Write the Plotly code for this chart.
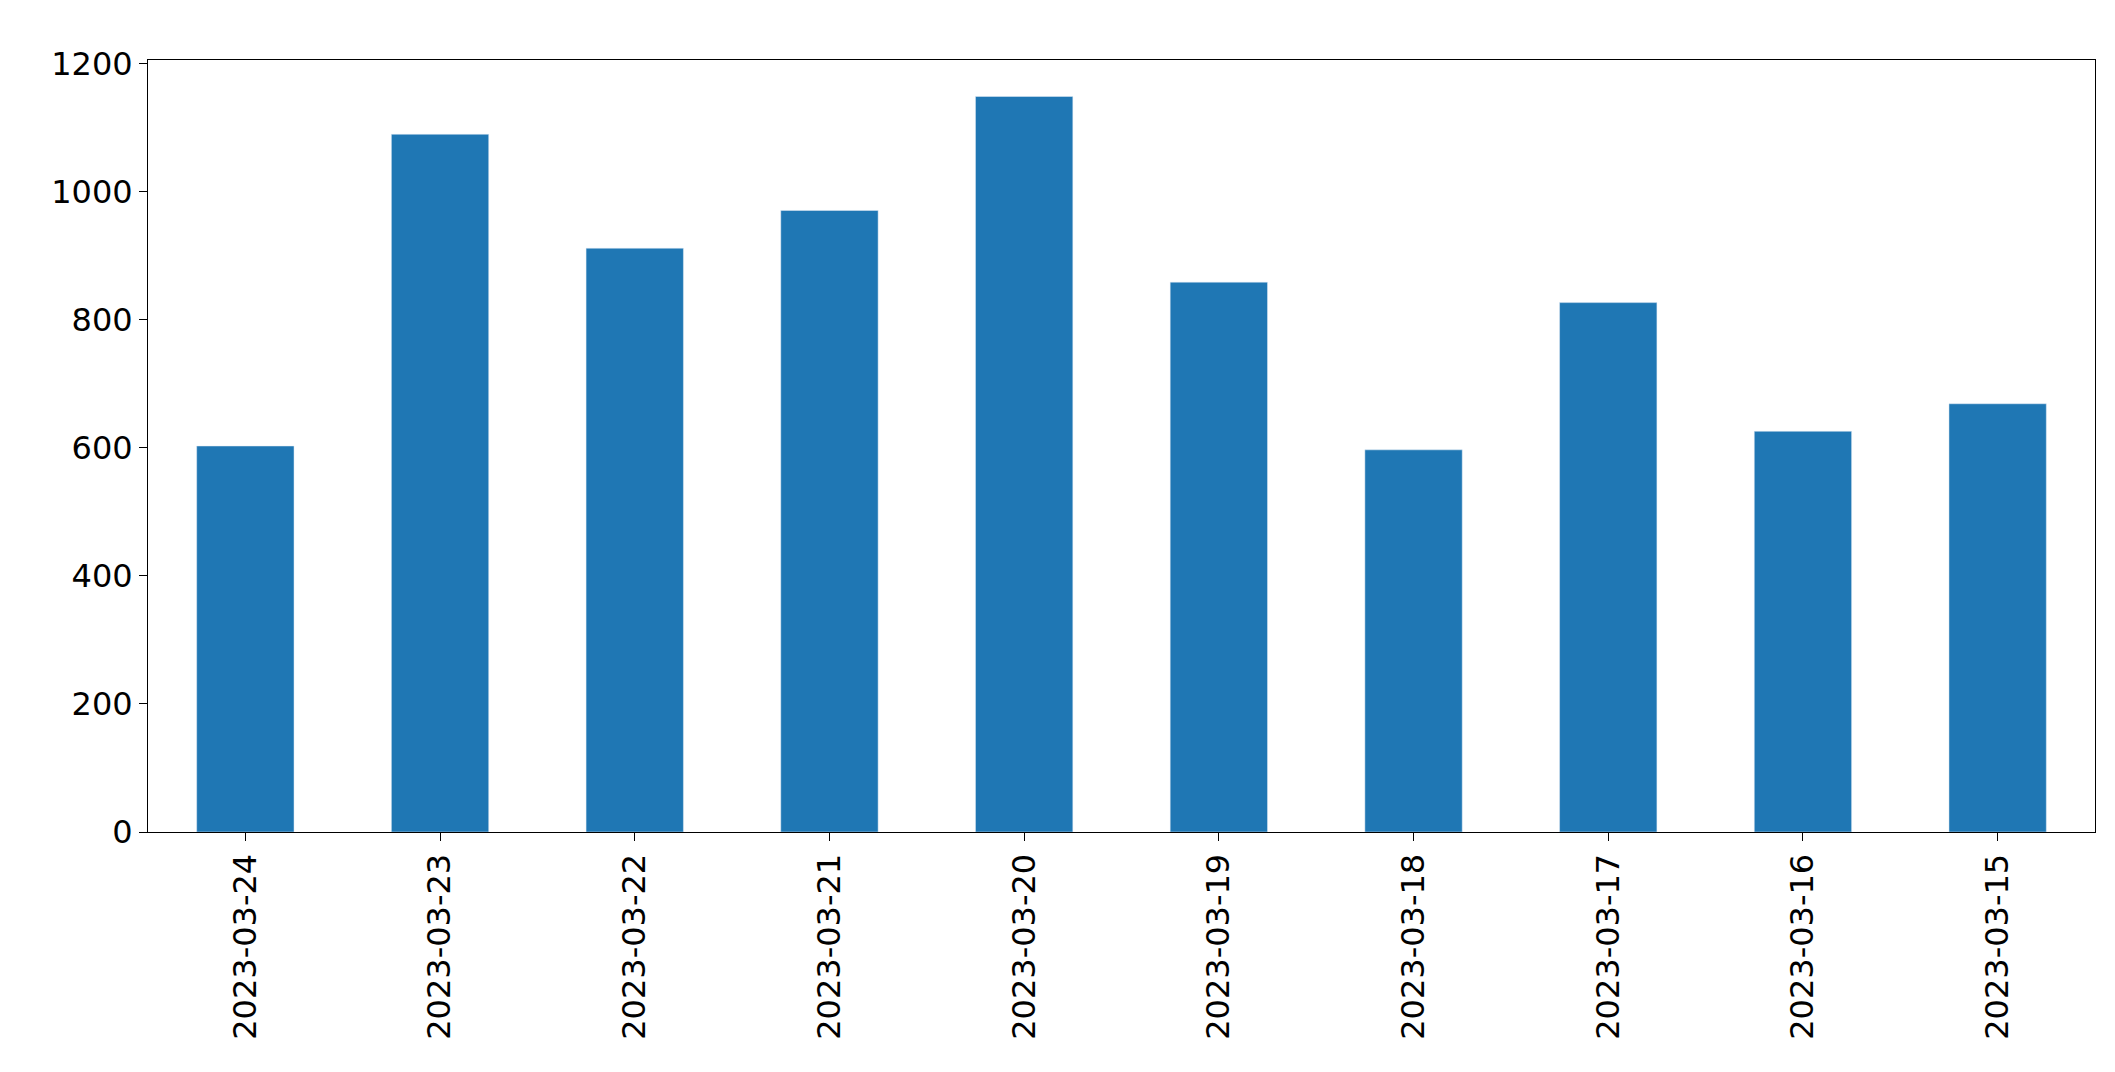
import plotly.graph_objects as go

# daily counts, newest first
dates = ["2023-03-24", "2023-03-23", "2023-03-22", "2023-03-21", "2023-03-20",
         "2023-03-19", "2023-03-18", "2023-03-17", "2023-03-16", "2023-03-15"]
counts = [603, 1090, 912, 971, 1149, 859, 597, 827, 626, 669]

fig = go.Figure()
fig.add_trace(go.Bar(x=dates, y=counts, marker_color="#1f77b4", width=0.5))

fig.update_layout(
    width=2115, height=1072,
    plot_bgcolor="white", paper_bgcolor="white",
    margin=dict(l=140, r=28, t=52, b=248),
    font=dict(family="DejaVu Sans", size=32, color="black"),
    showlegend=False,
)
fig.update_xaxes(type="category", tickangle=-90, showline=True, linecolor="black",
                 mirror=True, ticks="outside", ticklen=8, tickcolor="black",
                 range=[-0.5, 9.5])
fig.update_yaxes(range=[0, 1206], dtick=200, showline=True, linecolor="black",
                 mirror=True, ticks="outside", ticklen=8, tickcolor="black",
                 showgrid=False, zeroline=False)

fig.write_html("out.html")
